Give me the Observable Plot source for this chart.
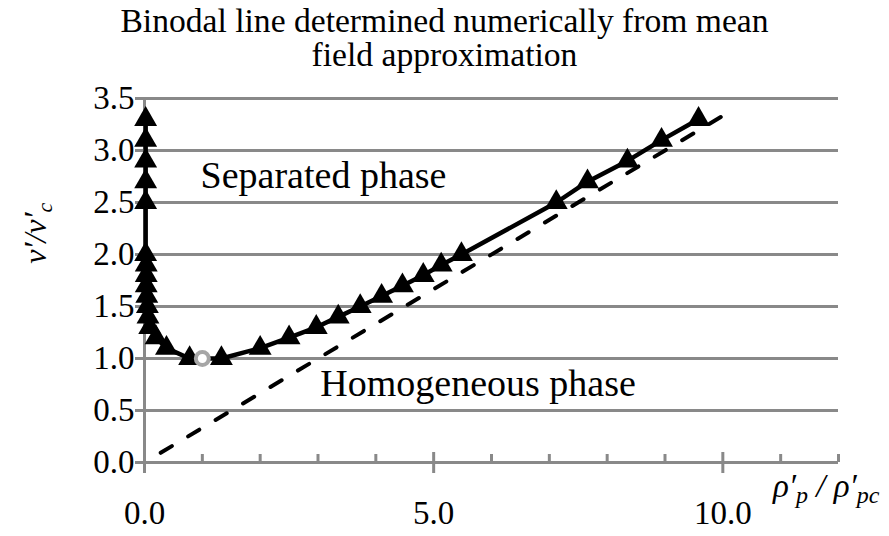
<!DOCTYPE html>
<html>
<head>
<meta charset="utf-8">
<script src="https://cdn.jsdelivr.net/npm/d3@7"></script>
<script src="https://cdn.jsdelivr.net/npm/@observablehq/plot@0.6"></script>
<style>
  body { margin: 0; background: #fff; }
  #title {
    width: 889px; height: 80px; box-sizing: border-box; padding-top: 4px;
    font-family: "Liberation Serif", "Times New Roman", serif;
    font-size: 33.6px; line-height: 34px; text-align: center; color: #000;
  }
  #chart svg { display: block; }
</style>
</head>
<body>
<div id="title">Binodal line determined numerically from mean<br>field approximation</div>
<div id="chart"></div>
<script>
// Dilute (left) branch of the binodal, from high to low v'/v'c
const leftRho = [0.02, 0.02, 0.02, 0.02, 0.02, 0.02, 0.03, 0.03, 0.03, 0.04, 0.05, 0.06, 0.09, 0.2, 0.38, 0.78];
const leftV   = [3.3, 3.1, 2.9, 2.7, 2.5, 2.0, 1.9, 1.8, 1.7, 1.6, 1.5, 1.4, 1.3, 1.2, 1.1, 1.0];

// Critical point
const criticalRho = [1.0];
const criticalV   = [1.0];

// Dense (right) branch of the binodal, from low to high v'/v'c
const rightRho = [1.33, 2.0, 2.5, 2.97, 3.35, 3.73, 4.1, 4.46, 4.82, 5.13, 5.48, 7.12, 7.66, 8.35, 8.94, 9.58];
const rightV   = [1.0, 1.1, 1.2, 1.3, 1.4, 1.5, 1.6, 1.7, 1.8, 1.9, 2.0, 2.5, 2.7, 2.9, 3.1, 3.3];

// Dashed reference line
const dashRho = [0.28, 10.1];
const dashV   = [0.093, 3.367];

// Axis ticks
const yTicks = [0, 0.5, 1.0, 1.5, 2.0, 2.5, 3.0, 3.5];
const xMajorTicks = [0, 5, 10];
const xMinorTicks = [1, 2, 3, 4, 6, 7, 8, 9, 11, 12];

// Region labels
const regionLabels = ["Separated phase", "Homogeneous phase"];
const regionRho = [0.97, 3.04];
const regionV = [2.755, 0.755];

const zip = (xs, ys) => xs.map((x, i) => ({x, y: ys[i]}));
const left = zip(leftRho, leftV);
const crit = zip(criticalRho, criticalV);
const right = zip(rightRho, rightV);
const binodal = [...left, ...crit, ...right];
const markers = [...left, ...right];
const dashed = zip(dashRho, dashV);
const regions = regionLabels.map((t, i) => ({t, x: regionRho[i], y: regionV[i]}));

const axisGrey = "#898989";
const serif = "Liberation Serif, Times New Roman, serif";

const plot = Plot.plot({
  width: 889,
  height: 456,
  marginTop: 18,
  marginBottom: 74,
  marginLeft: 144,
  marginRight: 51,
  style: {fontFamily: serif, fontSize: "32px", color: "#000", background: "#fff"},
  x: {domain: [0, 12]},
  y: {domain: [0, 3.5]},
  marks: [
    Plot.gridY(yTicks.filter(d => d > 0), {stroke: axisGrey, strokeOpacity: 1, strokeWidth: 3}),
    Plot.ruleY([0], {stroke: axisGrey, strokeWidth: 3}),
    Plot.ruleX([0], {stroke: axisGrey, strokeWidth: 3}),
    // crossing ticks on the y axis
    Plot.axisY({ticks: yTicks, tickSize: 15, dx: 6, text: null, label: null, stroke: axisGrey, strokeWidth: 3, strokeOpacity: 1}),
    Plot.axisY({ticks: yTicks, tickSize: 0, tickPadding: 10, tickFormat: ".1f", label: null,
                fontFamily: serif, fontSize: 33, fill: "#000"}),
    // major crossing ticks and minor inner ticks on the x axis
    Plot.axisX({ticks: xMajorTicks, tickSize: 21, dy: -10, text: null, label: null, stroke: axisGrey, strokeWidth: 3, strokeOpacity: 1}),
    Plot.axisX({ticks: xMinorTicks, tickSize: 8, dy: -8, text: null, label: null, stroke: axisGrey, strokeWidth: 3, strokeOpacity: 1}),
    Plot.axisX({ticks: xMajorTicks, tickSize: 0, tickPadding: 38, tickFormat: ".1f", label: null,
                fontFamily: serif, fontSize: 33, fill: "#000"}),
    Plot.line(dashed, {x: "x", y: "y", stroke: "#000", strokeWidth: 4, strokeDasharray: "13,19", strokeLinecap: "round"}),
    Plot.line(binodal, {x: "x", y: "y", stroke: "#000", strokeWidth: 4.5}),
    Plot.dot(markers, {x: "x", y: "y", symbol: "triangle", r: 8.5, fill: "#000", stroke: "none"}),
    Plot.dot(crit, {x: "x", y: "y", r: 6.5, fill: "#fff", stroke: "#a6a6a6", strokeWidth: 4}),
    Plot.text(regions, {x: "x", y: "y", text: "t", textAnchor: "start", fontFamily: serif, fontSize: 38, fill: "#000"})
  ]
});

document.getElementById("chart").append(plot);

// Axis titles with primes and subscripts
const sx = plot.scale("x");
const sy = plot.scale("y");
const svg = d3.select(plot);

const xl = svg.append("text")
  .attr("x", sx.apply(12) - 65)
  .attr("y", sy.apply(0) + 35)
  .attr("text-anchor", "start")
  .attr("font-family", serif)
  .attr("font-style", "italic")
  .attr("font-size", 33)
  .attr("fill", "#000");
xl.append("tspan").text("ρ′");
xl.append("tspan").attr("font-size", 24).attr("dy", 6).text("p");
xl.append("tspan").attr("dy", -6).text(" / ρ′");
xl.append("tspan").attr("font-size", 24).attr("dy", 6).text("pc");

const yl = svg.append("text")
  .attr("transform", `translate(${sx.apply(0) - 98},${sy.apply(2.2)}) rotate(-90)`)
  .attr("text-anchor", "middle")
  .attr("font-family", serif)
  .attr("font-style", "italic")
  .attr("font-size", 32)
  .attr("fill", "#000");
yl.append("tspan").text("v′/v′");
yl.append("tspan").attr("font-size", 22).attr("dy", 6).text("c");
</script>
</body>
</html>
